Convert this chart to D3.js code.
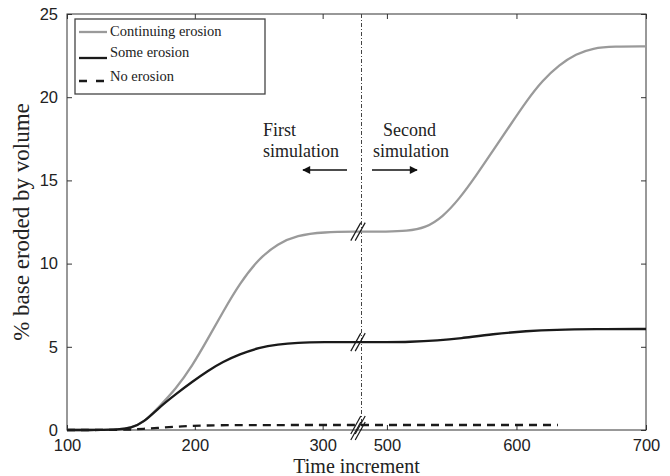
<!DOCTYPE html>
<html>
<head>
<meta charset="utf-8">
<script src="https://cdn.jsdelivr.net/npm/d3@7"></script>
<style>
  html, body { margin: 0; padding: 0; background: #fff; }
  svg { display: block; font-family: "Liberation Serif", "Times New Roman", serif; }
  .tick text { font-size: 16.5px; fill: #222; }
</style>
</head>
<body>
<div id="chart"></div>
<script>
// Erosion of base vs. time increment, broken x axis (first / second simulation)

// first simulation (left part of the axis)
const timeLeft   = [100, 125, 140, 150, 160, 172, 185, 198, 210, 222, 235, 250, 265, 280, 300, 330];
const contLeft   = [0, 0, 0.02, 0.12, 0.45, 1.4, 2.45, 3.85, 5.45, 7.1, 8.8, 10.3, 11.2, 11.7, 11.9, 11.92];
const someLeft   = [0, 0, 0.02, 0.12, 0.45, 1.35, 2.15, 2.9, 3.55, 4.1, 4.55, 4.95, 5.15, 5.25, 5.28, 5.28];
const noneTLeft  = [100, 145, 160, 175, 190, 205, 230, 330];
const noneLeft   = [0, 0, 0.07, 0.15, 0.22, 0.27, 0.3, 0.3];

// second simulation (right part of the axis)
const timeRight  = [480, 500, 515, 530, 543, 556, 569, 582, 595, 608, 620, 633, 646, 659, 675, 700];
const contRight  = [11.92, 11.92, 11.95, 12.15, 12.8, 13.9, 15.3, 16.8, 18.3, 19.8, 21.0, 21.95, 22.6, 22.95, 23.05, 23.05];
const someTRight = [480, 500, 517, 540, 556, 582, 608, 630, 660, 700];
const someRight  = [5.28, 5.28, 5.29, 5.38, 5.5, 5.77, 5.95, 6.03, 6.06, 6.07];
const noneTRight = [480, 632];
const noneRight  = [0.3, 0.3];

const xTicksLeft  = [100, 200, 300];
const xTicksRight = [500, 600, 700];
const yTicks      = [0, 5, 10, 15, 20, 25];

const legendItems = ['Continuing erosion', 'Some erosion', 'No erosion'];

const W = 670, H = 476;
const pL = 67, pR = 646, pT = 14, pB = 430, breakX = 361;

const svg = d3.select('#chart').append('svg').attr('width', W).attr('height', H);

const xL = d3.scaleLinear().domain([100, 330]).range([pL, breakX]);
const xR = d3.scaleLinear().domain([480, 700]).range([breakX, pR]);
const y  = d3.scaleLinear().domain([0, 25]).range([pB, pT]);

// axes: ticks point inward on all four sides
svg.append('g').attr('transform', `translate(0,${pB})`)
  .call(d3.axisBottom(xL).tickValues(xTicksLeft).tickSizeInner(-5).tickSizeOuter(0).tickPadding(9));
svg.append('g').attr('transform', `translate(0,${pB})`)
  .call(d3.axisBottom(xR).tickValues(xTicksRight).tickSizeInner(-5).tickSizeOuter(0).tickPadding(9));
svg.append('g').attr('transform', `translate(0,${pT})`)
  .call(d3.axisTop(xL).tickValues(xTicksLeft).tickSizeInner(-5).tickSizeOuter(0).tickFormat(''));
svg.append('g').attr('transform', `translate(0,${pT})`)
  .call(d3.axisTop(xR).tickValues(xTicksRight).tickSizeInner(-5).tickSizeOuter(0).tickFormat(''));
svg.append('g').attr('transform', `translate(${pL},0)`)
  .call(d3.axisLeft(y).tickValues(yTicks).tickSizeInner(-5).tickSizeOuter(0).tickPadding(9));
svg.append('g').attr('transform', `translate(${pR},0)`)
  .call(d3.axisRight(y).tickValues(yTicks).tickSizeInner(-5).tickSizeOuter(0).tickFormat(''));

svg.selectAll('.domain').remove();
svg.selectAll('.tick line').attr('stroke', '#333');

// frame
svg.append('rect')
  .attr('x', pL).attr('y', pT)
  .attr('width', pR - pL).attr('height', pB - pT)
  .attr('fill', 'none').attr('stroke', '#333').attr('stroke-width', 1);

// dash-dot separator between simulations
svg.append('line')
  .attr('x1', breakX + 0.5).attr('x2', breakX + 0.5)
  .attr('y1', pT).attr('y2', pB)
  .attr('stroke', '#444').attr('stroke-width', 1)
  .attr('stroke-dasharray', '4,2,1,2');

// curves
const series = [
  { tl: timeLeft, vl: contLeft, tr: timeRight, vr: contRight, color: '#9a9a9a', dash: null },
  { tl: timeLeft, vl: someLeft, tr: someTRight, vr: someRight, color: '#1a1a1a', dash: null },
  { tl: noneTLeft, vl: noneLeft, tr: noneTRight, vr: noneRight, color: '#1a1a1a', dash: '8,6' }
];

function drawPart(ts, vs, xs, s) {
  const pts = ts.map((t, i) => [t, vs[i]]);
  const line = d3.line().x(d => xs(d[0])).y(d => y(d[1])).curve(d3.curveBasis);
  svg.append('path')
    .attr('d', line(pts))
    .attr('fill', 'none')
    .attr('stroke', s.color)
    .attr('stroke-width', 2.3)
    .attr('stroke-dasharray', s.dash);
}

series.forEach(s => {
  drawPart(s.tl, s.vl, xL, s);
  drawPart(s.tr, s.vr, xR, s);
});

// break marks "//" on axis and on each curve
function breakMark(cx, cy) {
  [-2.2, 2.2].forEach(o => {
    svg.append('line')
      .attr('x1', cx + o - 5).attr('y1', cy + 9)
      .attr('x2', cx + o + 5).attr('y2', cy - 9)
      .attr('stroke', '#1a1a1a').attr('stroke-width', 1.2);
  });
}
breakMark(358, pB + 1);
series.forEach(s => breakMark(358, y(s.vl[s.vl.length - 1])));

// annotations
const ann = svg.append('g').attr('font-size', 18).attr('fill', '#222');
ann.append('text').attr('x', 263).attr('y', 136).text('First');
ann.append('text').attr('x', 263).attr('y', 157).text('simulation');
ann.append('text').attr('x', 383).attr('y', 136).text('Second');
ann.append('text').attr('x', 373).attr('y', 157).text('simulation');

svg.append('defs').append('marker')
  .attr('id', 'arr').attr('viewBox', '0 0 10 10')
  .attr('refX', 9).attr('refY', 5)
  .attr('markerWidth', 6).attr('markerHeight', 5)
  .attr('markerUnits', 'strokeWidth')
  .attr('orient', 'auto')
  .append('path').attr('d', 'M0,0 L10,5 L0,10 z').attr('fill', '#111');

svg.append('line')
  .attr('x1', 347).attr('y1', 170).attr('x2', 303).attr('y2', 170)
  .attr('stroke', '#111').attr('stroke-width', 1.6).attr('marker-end', 'url(#arr)');
svg.append('line')
  .attr('x1', 372).attr('y1', 170).attr('x2', 417).attr('y2', 170)
  .attr('stroke', '#111').attr('stroke-width', 1.6).attr('marker-end', 'url(#arr)');

// legend
const lg = svg.append('g');
lg.append('rect')
  .attr('x', 75).attr('y', 19).attr('width', 190).attr('height', 75)
  .attr('fill', '#fff').attr('stroke', '#444').attr('stroke-width', 1.3);
const rowsText = [36, 57, 81];
const rowsLine = [32, 58, 81];
legendItems.forEach((name, i) => {
  const s = series[i];
  lg.append('line')
    .attr('x1', 79).attr('x2', 107)
    .attr('y1', rowsLine[i]).attr('y2', rowsLine[i])
    .attr('stroke', s.color).attr('stroke-width', 2.3)
    .attr('stroke-dasharray', s.dash ? '8,9' : null);
  lg.append('text')
    .attr('x', 110).attr('y', rowsText[i])
    .attr('font-size', 14.5).attr('fill', '#222')
    .text(name);
});

// axis titles
svg.append('text')
  .attr('x', (pL + pR) / 2).attr('y', 473)
  .attr('text-anchor', 'middle').attr('font-size', 20).attr('fill', '#222')
  .text('Time increment');
svg.append('text')
  .attr('transform', `translate(29,${(pT + pB) / 2}) rotate(-90)`)
  .attr('text-anchor', 'middle').attr('font-size', 23).attr('fill', '#222')
  .text('% base eroded by volume');
</script>
</body>
</html>
